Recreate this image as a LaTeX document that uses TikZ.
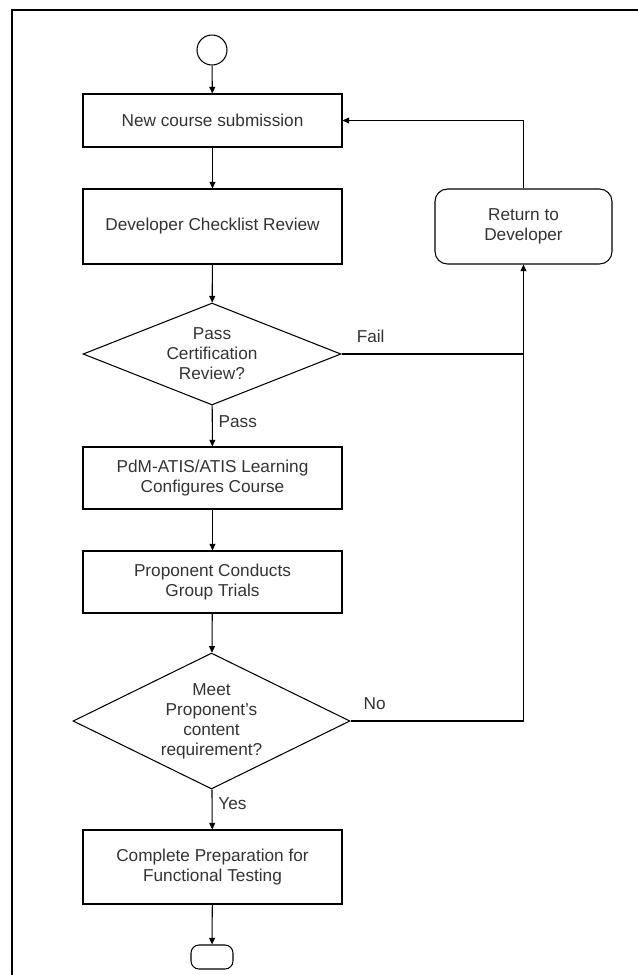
\documentclass[tikz,border=0pt]{standalone}
\usepackage{fontspec}
\setmainfont{Liberation Sans}
\usetikzlibrary{shapes.geometric,arrows.meta}
\begin{document}
\begin{tikzpicture}[x=0.02cm, y=-0.02cm,
    txt/.style={text=black!80, font=\fontsize{9.8}{11.4}\selectfont},
    stepbox/.style={rectangle, draw, line width=0.6pt, minimum width=5.18cm, align=center, txt},
    decide/.style={diamond, draw, line width=0.6pt, inner sep=0pt, align=center, txt},
    flow/.style={line width=0.6pt, -{Triangle[length=3.8pt, width=3.4pt]}}]
    \useasboundingbox (0,0) rectangle (638,975);
    \draw[line width=1.2pt] (12,975) -- (12,10) -- (638,10);
    % main column
    \node[circle, draw, line width=0.6pt, minimum size=0.6cm, inner sep=0pt] (start) at (212,50) {};
    \node[stepbox, minimum height=1.06cm] (submit) at (212.5,120.5) {New course submission};
    \node[stepbox, minimum height=1.5cm] (review) at (212.5,226.5) {Developer Checklist Review};
    \node[decide, minimum width=5.16cm, minimum height=2.04cm, aspect=2.5] (certq) at (212,354) {Pass\\Certification\\Review?};
    \node[stepbox, minimum height=1.24cm] (config) at (212.5,478) {PdM-ATIS/ATIS Learning\\Configures Course};
    \node[stepbox, minimum height=1.24cm] (trials) at (212.5,582) {Proponent Conducts\\Group Trials};
    \node[decide, minimum width=5.54cm, minimum height=2.72cm, aspect=2.04] (meetq) at (211.5,721) {Meet\\Proponent's\\content\\requirement?};
    \node[stepbox, minimum height=1.48cm] (prep) at (212.5,867) {Complete Preparation for\\Functional Testing};
    \node[rectangle, rounded corners=0.16cm, draw, line width=0.6pt, minimum width=0.84cm, minimum height=0.48cm] (finish) at (212,957) {};
    % side branch
    \node[rectangle, rounded corners=0.25cm, draw, line width=0.6pt, minimum width=3.54cm, minimum height=1.5cm, align=center, txt] (back) at (523.5,226.5) {Return to\\Developer};

    \draw[flow] (start) -- (submit);
    \draw[flow] (submit) -- (review);
    \draw[flow] (review) -- (certq);
    \draw[flow] (certq) -- node[right, txt, pos=0.4] {Pass} (config);
    \draw[flow] (config) -- (trials);
    \draw[flow] (trials) -- (meetq);
    \draw[flow] (meetq) -- node[right, txt, pos=0.35] {Yes} (prep);
    \draw[flow] (prep) -- (finish);
    \draw[line width=0.6pt] (certq.east) -- node[above, txt, pos=0.16, yshift=3pt] {Fail} (certq.east -| back.south);
    \draw[flow] (meetq.east) -- node[above, txt, pos=0.14, yshift=3pt] {No} (meetq.east -| back.south) -- (back.south);
    \draw[flow] (back.north) |- (submit.east);
\end{tikzpicture}
\end{document}
